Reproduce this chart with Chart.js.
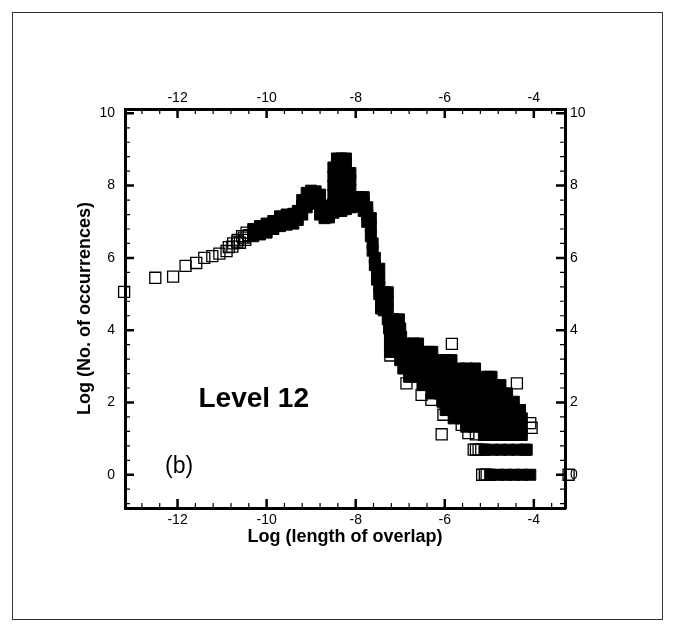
<!DOCTYPE html>
<html><head><meta charset="utf-8">
<script src="https://cdn.jsdelivr.net/npm/chart.js@4.4.1/dist/chart.umd.min.js"></script>
<style>html,body{margin:0;padding:0;background:#fff;}canvas{display:block;}</style>
</head><body>
<canvas id="c" width="674" height="631"></canvas>
<script>
// ---- tick values ----
const xMajorTicks = [-12, -10, -8, -6, -4];
const xMinorTicks = [-12.8,-12.4,-11.6,-11.2,-10.8,-10.4,-9.6,-9.2,-8.8,-8.4,-7.6,-7.2,-6.8,-6.4,-5.6,-5.2,-4.8,-4.4,-3.6];
const yMajorTicks = [0, 2, 4, 6, 8, 10];
const yMinorTicks = [-0.8,-0.4,0.4,0.8,1.2,1.6,2.4,2.8,3.2,3.6,4.4,4.8,5.2,5.6,6.4,6.8,7.2,7.6,8.4,8.8,9.2,9.6];

// ---- data: [log(length of overlap), log(no. of occurrences)] ----
// sparse hollow squares on the left tail
const tailPoints = [
 [-13.2,5.06],[-12.5,5.45],[-12.1,5.48],[-11.82,5.78],[-11.58,5.86],[-11.4,6.0],[-11.22,6.05],
 [-11.06,6.12],[-10.9,6.19],[-10.77,6.31],[-10.66,6.45],[-10.51,6.56],[-10.4,6.63],[-10.28,6.68],
 [-10.85,6.3],[-10.75,6.4],[-10.65,6.5],[-10.55,6.6],[-10.45,6.7],[-10.6,6.42],[-10.48,6.5]
];
// dense part of the main curve (peaks and steep fall)
const bandDense = [
 [-10.3,6.6],[-10.3,6.8],[-10.15,6.65],[-10.15,6.88],[-10.0,6.7],[-10.0,6.95],
 [-9.85,6.8],[-9.85,7.02],[-9.7,6.88],[-9.7,7.15],[-9.55,6.92],[-9.55,7.2],
 [-9.4,6.95],[-9.4,7.22],[-9.3,7.05],[-9.3,7.3],
 [-9.2,7.2],[-9.2,7.45],[-9.2,7.6],[-9.1,7.4],[-9.1,7.6],[-9.1,7.8],
 [-9.0,7.6],[-9.0,7.86],[-8.9,7.5],[-8.9,7.84],[-8.8,7.2],[-8.8,7.45],[-8.8,7.75],
 [-8.7,7.1],[-8.7,7.45],[-8.6,7.12],[-8.6,7.35],
 [-8.5,7.25],[-8.5,7.5],[-8.5,7.75],[-8.5,8.0],[-8.5,8.25],[-8.5,8.5],
 [-8.42,7.3],[-8.42,7.55],[-8.42,7.8],[-8.42,8.05],[-8.42,8.3],[-8.42,8.55],[-8.42,8.75],
 [-8.32,7.3],[-8.32,7.55],[-8.32,7.8],[-8.32,8.05],[-8.32,8.3],[-8.32,8.55],[-8.32,8.75],
 [-8.22,7.35],[-8.22,7.6],[-8.22,7.85],[-8.22,8.1],[-8.22,8.35],[-8.22,8.6],[-8.22,8.75],
 [-8.12,7.4],[-8.12,7.65],[-8.12,7.9],[-8.12,8.15],[-8.12,8.35],
 [-8.0,7.42],[-8.0,7.68],[-7.9,7.42],[-7.9,7.68],
 [-7.82,7.3],[-7.82,7.55],[-7.82,7.68],[-7.74,7.0],[-7.74,7.2],[-7.74,7.4],
 [-7.66,6.6],[-7.66,6.85],[-7.66,7.1],[-7.62,6.2],[-7.62,6.4],[-7.57,5.8],[-7.57,6.0],
 [-7.52,5.4],[-7.52,5.6],[-7.47,5.0],[-7.47,5.2],[-7.47,5.4],[-7.47,5.7],
 [-7.43,4.6],[-7.43,4.8],[-7.37,4.55],[-7.37,4.8],[-7.37,5.05],
 [-7.28,4.3],[-7.28,4.55],[-7.28,4.8],[-7.28,5.05]
];
// dense blob of the lower tail
const blobDense = [
 [-7.15,4.3],[-7.03,4.3],
 [-7.25,4.05],[-7.12,4.05],[-7.0,4.05],
 [-7.23,3.82],[-7.08,3.82],[-6.98,3.82],
 [-7.23,3.63],[-7.05,3.63],[-6.87,3.63],[-6.7,3.63],[-6.6,3.63],
 [-7.23,3.4],[-7.05,3.4],[-6.87,3.4],[-6.7,3.4],[-6.52,3.4],[-6.35,3.4],[-6.28,3.4],
 [-7.0,3.17],[-6.82,3.17],[-6.64,3.17],[-6.46,3.17],[-6.28,3.17],[-6.1,3.17],[-5.95,3.17],[-5.85,3.17],
 [-6.93,2.94],[-6.75,2.94],[-6.57,2.94],[-6.39,2.94],[-6.21,2.94],[-6.03,2.94],[-5.85,2.94],[-5.67,2.94],[-5.5,2.94],[-5.32,2.94],
 [-6.8,2.71],[-6.62,2.71],[-6.44,2.71],[-6.26,2.71],[-6.08,2.71],[-5.9,2.71],[-5.72,2.71],[-5.54,2.71],[-5.36,2.71],[-5.18,2.71],[-5.0,2.71],[-4.95,2.71],
 [-6.5,2.48],[-6.32,2.48],[-6.14,2.48],[-5.96,2.48],[-5.78,2.48],[-5.6,2.48],[-5.42,2.48],[-5.24,2.48],[-5.06,2.48],[-4.88,2.48],[-4.75,2.48],
 [-6.3,2.25],[-6.12,2.25],[-5.94,2.25],[-5.76,2.25],[-5.58,2.25],[-5.4,2.25],[-5.22,2.25],[-5.04,2.25],[-4.86,2.25],[-4.68,2.25],[-4.6,2.25],
 [-6.05,2.02],[-5.87,2.02],[-5.69,2.02],[-5.51,2.02],[-5.33,2.02],[-5.15,2.02],[-4.97,2.02],[-4.79,2.02],[-4.61,2.02],[-4.45,2.02],
 [-5.98,1.79],[-5.8,1.79],[-5.62,1.79],[-5.44,1.79],[-5.26,1.79],[-5.08,1.79],[-4.9,1.79],[-4.72,1.79],[-4.54,1.79],[-4.38,1.79],[-4.31,1.79],
 [-5.8,1.56],[-5.62,1.56],[-5.44,1.56],[-5.26,1.56],[-5.08,1.56],[-4.9,1.56],[-4.72,1.56],[-4.54,1.56],[-4.38,1.56],[-4.27,1.56],
 [-5.52,1.33],[-5.34,1.33],[-5.16,1.33],[-4.98,1.33],[-4.8,1.33],[-4.62,1.33],[-4.44,1.33],[-4.27,1.33],
 [-5.12,1.1],[-4.94,1.1],[-4.76,1.1],[-4.58,1.1],[-4.4,1.1],[-4.27,1.1]
];
// single-count and two-count rows
const rowsDense = [
 [-5.1,0.693],[-4.92,0.693],[-4.74,0.693],[-4.56,0.693],[-4.38,0.693],[-4.2,0.693],[-4.16,0.693],
 [-4.98,0],[-4.8,0],[-4.62,0],[-4.44,0],[-4.26,0],[-4.08,0]
];
const rowsHollow = [
 [-5.35,0.693],[-5.3,0.693],[-5.24,0.693],[-5.18,0.693],
 [-5.16,0],[-5.1,0],[-5.06,0]
];
// scattered hollow squares around the edge of the blob
const edgePoints = [
 [-5.84,3.62],[-4.38,2.53],[-4.08,1.43],[-4.05,1.3],[-6.07,1.12],[-5.62,1.38],[-5.47,1.15],
 [-5.3,1.12],[-6.86,2.53],[-6.52,2.21],[-6.3,2.07],[-6.03,1.66],[-7.22,3.3],[-3.22,0]
];

const toXY = a => a.map(p => ({x: p[0], y: p[1]}));
const FONT = '"Liberation Sans", Arial, Helvetica, sans-serif';
const X_MIN = -13.18, X_MAX = -3.3, Y_MIN = -0.92, Y_MAX = 10.12;

const fixedTicks = vals => scale => { scale.ticks = vals.map(v => ({value: v})); };

const decor = {
  id: 'decor',
  beforeDraw(chart) {
    const ctx = chart.ctx;
    ctx.save(); ctx.fillStyle = '#fff'; ctx.fillRect(0, 0, chart.width, chart.height); ctx.restore();
  },
  afterDraw(chart) {
    const ctx = chart.ctx, a = chart.chartArea;
    const sx = chart.scales.x, sy = chart.scales.y;
    ctx.save();
    ctx.strokeStyle = '#000';
    const vt = (vals, len, lw) => {
      ctx.lineWidth = lw;
      vals.forEach(v => {
        const p = sx.getPixelForValue(v);
        ctx.beginPath();
        ctx.moveTo(p, a.bottom); ctx.lineTo(p, a.bottom - len);
        ctx.moveTo(p, a.top); ctx.lineTo(p, a.top + len);
        ctx.stroke();
      });
    };
    const ht = (vals, len, lw) => {
      ctx.lineWidth = lw;
      vals.forEach(v => {
        const p = sy.getPixelForValue(v);
        ctx.beginPath();
        ctx.moveTo(a.left, p); ctx.lineTo(a.left + len, p);
        ctx.moveTo(a.right, p); ctx.lineTo(a.right - len, p);
        ctx.stroke();
      });
    };
    vt(xMajorTicks, 9, 2.5); vt(xMinorTicks, 5, 1.2);
    ht(yMajorTicks, 9, 2.5); ht(yMinorTicks, 5, 1.2);
    // outer frame
    ctx.lineWidth = 1; ctx.strokeStyle = '#333';
    ctx.strokeRect(12.5, 12.5, 650, 607);
    // annotations
    ctx.fillStyle = '#000'; ctx.textAlign = 'left'; ctx.textBaseline = 'alphabetic';
    ctx.font = 'bold 28px ' + FONT;
    ctx.fillText('Level 12', sx.getPixelForValue(-11.53), sy.getPixelForValue(1.88));
    ctx.font = '23px ' + FONT;
    ctx.fillText('(b)', sx.getPixelForValue(-12.28), sy.getPixelForValue(0.055));
    ctx.restore();
  }
};

const tickFont = {family: FONT, size: 14};
const titleFont = {family: FONT, size: 18, weight: 'bold'};
const common = {
  type: 'linear',
  grid: {display: false, drawTicks: false},
  border: {display: true, color: '#000', width: 3},
};

new Chart(document.getElementById('c'), {
  type: 'scatter',
  data: {
    datasets: [
      {
        data: toXY([...bandDense, ...blobDense, ...rowsDense]),
        pointStyle: 'rect', pointRadius: 7.8, pointHoverRadius: 7.8,
        backgroundColor: '#000', borderColor: '#000', borderWidth: 1,
        xAxisID: 'x', yAxisID: 'y'
      },
      {
        data: toXY([...tailPoints, ...rowsHollow, ...edgePoints]),
        pointStyle: 'rect', pointRadius: 7.8, pointHoverRadius: 7.8,
        backgroundColor: 'rgba(0,0,0,0)', borderColor: '#000', borderWidth: 1.3,
        xAxisID: 'x', yAxisID: 'y', clip: false
      }
    ]
  },
  options: {
    responsive: false, animation: false, devicePixelRatio: 1,
    layout: {padding: 0},
    plugins: {legend: {display: false}, tooltip: {enabled: false}},
    scales: {
      x: {...common, position: 'bottom', min: X_MIN, max: X_MAX,
        afterBuildTicks: fixedTicks(xMajorTicks), afterFit(s) { s.height = 123; },
        ticks: {padding: 4, color: '#000', font: tickFont, callback: v => String(v)},
        title: {display: true, text: 'Log (length of overlap)', color: '#000', font: titleFont, padding: {top: 0, bottom: 83}}},
      x2: {...common, axis: 'x', position: 'top', min: X_MIN, max: X_MAX,
        afterBuildTicks: fixedTicks(xMajorTicks), afterFit(s) { s.height = 109; },
        ticks: {padding: 2, color: '#000', font: tickFont, callback: v => String(v)}},
      y: {...common, position: 'left', min: Y_MIN, max: Y_MAX,
        afterBuildTicks: fixedTicks(yMajorTicks), afterFit(s) { s.width = 125; },
        ticks: {padding: 10, color: '#000', font: tickFont, callback: v => String(v)},
        title: {display: true, text: 'Log (No. of occurrences)', color: '#000', font: titleFont, padding: {top: 74, bottom: 0}}},
      y2: {...common, axis: 'y', position: 'right', min: Y_MIN, max: Y_MAX,
        afterBuildTicks: fixedTicks(yMajorTicks), afterFit(s) { s.width = 109; },
        ticks: {padding: 5, color: '#000', font: tickFont, callback: v => String(v)}}
    }
  },
  plugins: [decor]
});
</script>
</body></html>
